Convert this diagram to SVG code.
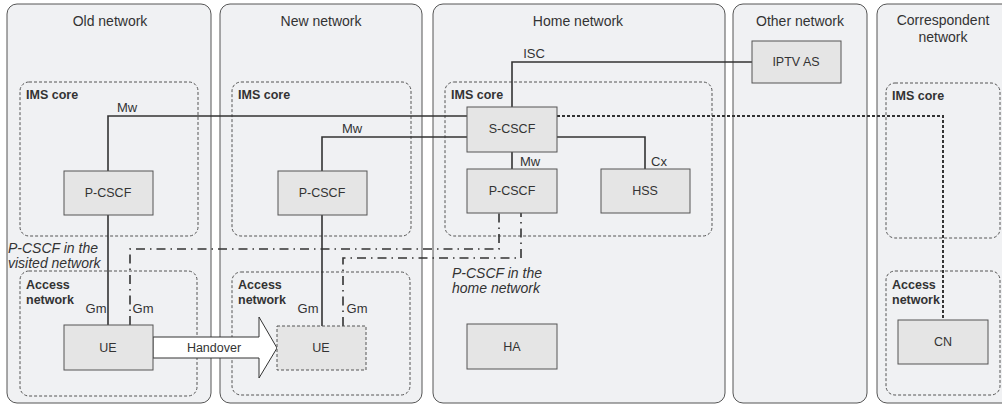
<svg xmlns="http://www.w3.org/2000/svg" width="1002" height="405" viewBox="0 0 1002 405">
<style>
text{font-family:"Liberation Sans",Arial,sans-serif;fill:#333}
.panel{fill:#f0f1f3;stroke:#555;stroke-width:1}
.title{font-size:14px;text-anchor:middle}
.area{fill:none;stroke:#555;stroke-width:1;stroke-dasharray:3 2}
.alabel{font-size:12.5px;font-weight:bold}
.box{fill:#e5e5e5;stroke:#555;stroke-width:1}
.dbox{fill:#e5e5e5;stroke:#555;stroke-width:1;stroke-dasharray:3 2}
.blabel{font-size:12.5px;text-anchor:middle}
.ilabel{font-size:13px;text-anchor:middle}
.note{font-size:14px;font-style:italic}
.solid{fill:none;stroke:#333;stroke-width:1.6}
.dashdot{fill:none;stroke:#333;stroke-width:1.6;stroke-dasharray:9 5 1.5 5}
.dotted{fill:none;stroke:#333;stroke-width:2;stroke-dasharray:3 2}
</style>

<g id="old-network">
<rect class="panel" x="7" y="4" width="204" height="399" rx="10"/>
<text class="title" x="110" y="26">Old network</text>
<rect class="area" x="20" y="82" width="178" height="154" rx="9"/>
<text class="alabel" x="26" y="99">IMS core</text>
<rect class="area" x="20" y="271" width="177" height="125" rx="9"/>
<text class="alabel" x="26" y="289">Access</text>
<text class="alabel" x="26" y="304">network</text>
<text class="note" x="8" y="253">P-CSCF in the</text>
<text class="note" x="8" y="268">visited network</text>
</g>

<g id="new-network">
<rect class="panel" x="220" y="4" width="202" height="399" rx="10"/>
<text class="title" x="321" y="26">New network</text>
<rect class="area" x="232" y="82" width="179" height="154" rx="9"/>
<text class="alabel" x="238" y="99">IMS core</text>
<rect class="area" x="232" y="272" width="178" height="123" rx="9"/>
<text class="alabel" x="238" y="289">Access</text>
<text class="alabel" x="238" y="304">network</text>
</g>

<g id="home-network">
<rect class="panel" x="433" y="4" width="292" height="399" rx="10"/>
<text class="title" x="578" y="26">Home network</text>
<rect class="area" x="445" y="82" width="267" height="154" rx="9"/>
<text class="alabel" x="451" y="99">IMS core</text>
<text class="note" x="452" y="278">P-CSCF in the</text>
<text class="note" x="452" y="293">home network</text>
</g>

<g id="other-network">
<rect class="panel" x="733" y="4" width="134" height="399" rx="10"/>
<text class="title" x="800" y="26">Other network</text>
</g>

<g id="correspondent-network">
<rect class="panel" x="877" y="4" width="140" height="399" rx="10"/>
<text class="title" x="943" y="25">Correspondent</text>
<text class="title" x="943" y="42">network</text>
<rect class="area" x="886" y="83" width="114" height="155" rx="9"/>
<text class="alabel" x="892" y="100">IMS core</text>
<rect class="area" x="886" y="271" width="114" height="124" rx="9"/>
<text class="alabel" x="892" y="289">Access</text>
<text class="alabel" x="892" y="304">network</text>
</g>

<g id="connectors">
<path class="solid" d="M108 171 V116 H467"/>
<path class="solid" d="M322 171 V137 H467"/>
<path class="solid" d="M108 215 V325"/>
<path class="solid" d="M322 215 V326"/>
<path class="solid" d="M512 107 V62 H752"/>
<path class="solid" d="M512 152 V169"/>
<path class="solid" d="M557 137 H645 V169"/>
<path class="dotted" d="M557 116 H943 V320"/>
<path class="dashdot" d="M130 325 V249 H499 V213"/>
<path class="dashdot" d="M343 326 V258 H521 V213"/>
<text class="ilabel" x="127" y="112">Mw</text>
<text class="ilabel" x="352" y="133">Mw</text>
<text class="ilabel" x="534" y="58">ISC</text>
<text class="ilabel" x="530" y="166">Mw</text>
<text class="ilabel" x="659" y="166">Cx</text>
<text class="ilabel" x="96" y="313">Gm</text>
<text class="ilabel" x="143" y="313">Gm</text>
<text class="ilabel" x="308" y="313">Gm</text>
<text class="ilabel" x="357" y="313">Gm</text>
</g>

<g id="handover">
<path d="M153 337 H259 V317 L277 348 L259 378 V358 H153 Z" fill="#fff" stroke="#333" stroke-width="1"/>
<text class="blabel" x="214" y="352">Handover</text>
</g>

<g id="old-pcscf"><rect class="box" x="64" y="171" width="89" height="44"/><text class="blabel" x="108" y="197">P-CSCF</text></g>
<g id="old-ue"><rect class="box" x="64" y="325" width="89" height="45"/><text class="blabel" x="108" y="352">UE</text></g>
<g id="new-pcscf"><rect class="box" x="278" y="171" width="89" height="44"/><text class="blabel" x="322" y="197">P-CSCF</text></g>
<g id="new-ue"><rect class="dbox" x="277" y="326" width="89" height="44"/><text class="blabel" x="321" y="352">UE</text></g>
<g id="s-cscf"><rect class="box" x="467" y="107" width="90" height="45"/><text class="blabel" x="512" y="133">S-CSCF</text></g>
<g id="home-pcscf"><rect class="box" x="467" y="169" width="90" height="44"/><text class="blabel" x="512" y="195">P-CSCF</text></g>
<g id="hss"><rect class="box" x="601" y="169" width="89" height="44"/><text class="blabel" x="645" y="195">HSS</text></g>
<g id="ha"><rect class="box" x="467" y="324" width="90" height="45"/><text class="blabel" x="512" y="351">HA</text></g>
<g id="iptv-as"><rect class="box" x="752" y="41" width="89" height="42"/><text class="blabel" x="796" y="66">IPTV AS</text></g>
<g id="cn"><rect class="box" x="898" y="320" width="90" height="44"/><text class="blabel" x="943" y="346">CN</text></g>
</svg>
